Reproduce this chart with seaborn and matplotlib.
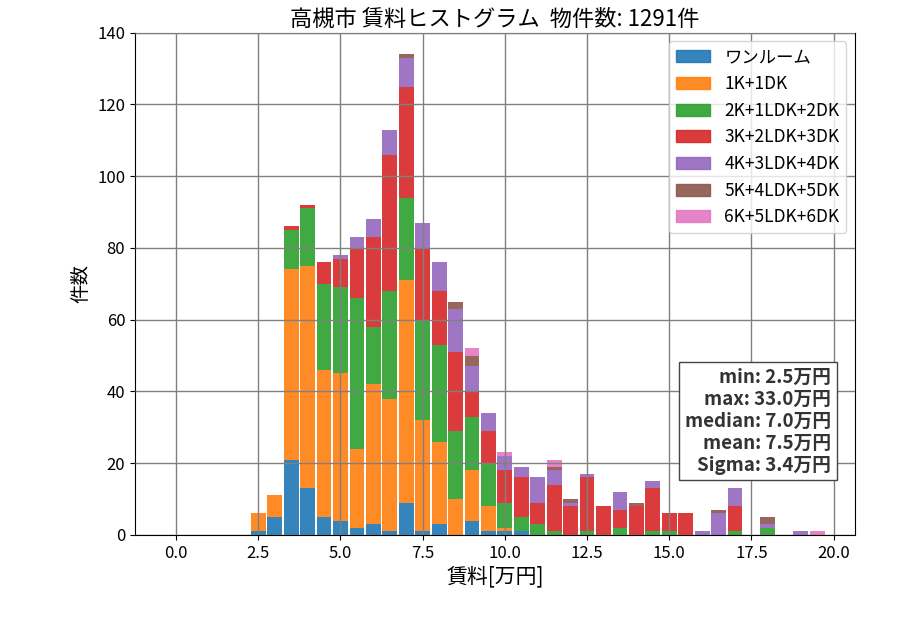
import matplotlib
matplotlib.use("Agg")
import matplotlib.pyplot as plt
import matplotlib.patches as mpatches
import numpy as np
import pandas as pd
import seaborn as sns

plt.rcParams['font.family'] = ['Noto Sans CJK JP', 'DejaVu Sans']

# bin centres [万円], bins are 0.5 wide
centers = [2.5, 3.0, 3.5, 4.0, 4.5, 5.0, 5.5, 6.0, 6.5, 7.0, 7.5, 8.0, 8.5, 9.0, 9.5,
           10.0, 10.5, 11.0, 11.5, 12.0, 12.5, 13.0, 13.5, 14.0, 14.5, 15.0, 15.5,
           16.0, 16.5, 17.0, 17.5, 18.0, 18.5, 19.0, 19.5]

types = ["ワンルーム", "1K+1DK", "2K+1LDK+2DK", "3K+2LDK+3DK",
         "4K+3LDK+4DK", "5K+4LDK+5DK", "6K+5LDK+6DK"]

one_room = [1, 5, 21, 13, 5, 4, 2, 3, 1, 9, 1, 3, 0, 4, 1, 1, 1, 0, 0, 0, 0, 0, 0,
            0, 0, 0, 0, 0, 0, 0, 0, 0, 0, 0, 0]
k1 = [5, 6, 53, 62, 41, 41, 22, 39, 37, 62, 31, 23, 10, 14, 7, 1, 0, 0, 0, 0, 0, 0,
      0, 0, 0, 0, 0, 0, 0, 0, 0, 0, 0, 0, 0]
k2 = [0, 0, 11, 16, 24, 24, 42, 16, 30, 23, 28, 27, 19, 15, 12, 7, 4, 3, 1, 0, 1, 0,
      2, 0, 1, 1, 0, 0, 0, 1, 0, 2, 0, 0, 0]
k3 = [0, 0, 1, 1, 6, 8, 14, 25, 38, 31, 20, 15, 22, 7, 9, 9, 11, 6, 13, 8, 15, 8,
      5, 8, 12, 5, 6, 0, 0, 7, 0, 0, 0, 0, 0]
k4 = [0, 0, 0, 0, 0, 1, 3, 5, 7, 8, 7, 8, 12, 7, 5, 4, 3, 7, 4, 1, 1, 0,
      5, 0, 2, 0, 0, 1, 6, 5, 0, 1, 0, 1, 0]
k5 = [0, 0, 0, 0, 0, 0, 0, 0, 0, 1, 0, 0, 2, 3, 0, 0, 0, 0, 1, 1, 0, 0,
      0, 1, 0, 0, 0, 0, 1, 0, 0, 2, 0, 0, 0]
k6 = [0, 0, 0, 0, 0, 0, 0, 0, 0, 0, 0, 0, 0, 2, 0, 1, 0, 0, 2, 0, 0, 0,
      0, 0, 0, 0, 0, 0, 0, 0, 0, 0, 0, 0, 1]

stats_lines = ["min: 2.5万円", "max: 33.0万円", "median: 7.0万円",
               "mean: 7.5万円", "Sigma: 3.4万円"]
n_total = 1291

counts = [one_room, k1, k2, k3, k4, k5, k6]
frames = []
for t, c in zip(types, counts):
    frames.append(pd.DataFrame({"rent": centers, "type": t, "count": c}))
df = pd.concat(frames, ignore_index=True)

colors = sns.color_palette("tab10", len(types))
palette = dict(zip(types, colors))
edges = [float(e) for e in np.arange(-0.25, 20.3, 0.5)]

fig = plt.figure(figsize=(9, 6.3), dpi=100)
ax = fig.add_axes([0.15, 0.151, 0.8, 0.797])

# seaborn stacks the first hue level on top, so pass the order reversed
sns.histplot(data=df, x="rent", hue="type", weights="count", multiple="stack",
             hue_order=types[::-1], palette=palette, bins=edges, shrink=0.9,
             alpha=0.9, linewidth=0, legend=False, ax=ax)

ax.set_xlim(-1.25, 20.65)
ax.set_ylim(0, 140)
ax.set_xticks([0, 2.5, 5, 7.5, 10, 12.5, 15, 17.5, 20])
ax.set_xticklabels(["0.0", "2.5", "5.0", "7.5", "10.0", "12.5", "15.0", "17.5", "20.0"])
ax.tick_params(labelsize=12)
ax.grid(True, color="gray", linewidth=1)
ax.set_axisbelow(False)

ax.set_title(f"高槻市 賃料ヒストグラム  物件数: {n_total}件", fontsize=16, pad=5)
ax.set_xlabel("賃料[万円]", fontsize=15, labelpad=3)
ax.set_ylabel("件数", fontsize=14)

handles = [mpatches.Patch(color=palette[t], alpha=0.9, label=t) for t in types]
ax.legend(handles=handles, loc="upper right", fontsize=12.5)

ax.text(0.967, 0.333, "\n".join(stats_lines), transform=ax.transAxes,
        ha="right", va="top", fontsize=13.5, fontweight="bold", color="#333333",
        linespacing=1.2,
        bbox=dict(boxstyle="square,pad=0.3", facecolor="white", edgecolor="#444444"))

fig.savefig("out.png", dpi=100)
